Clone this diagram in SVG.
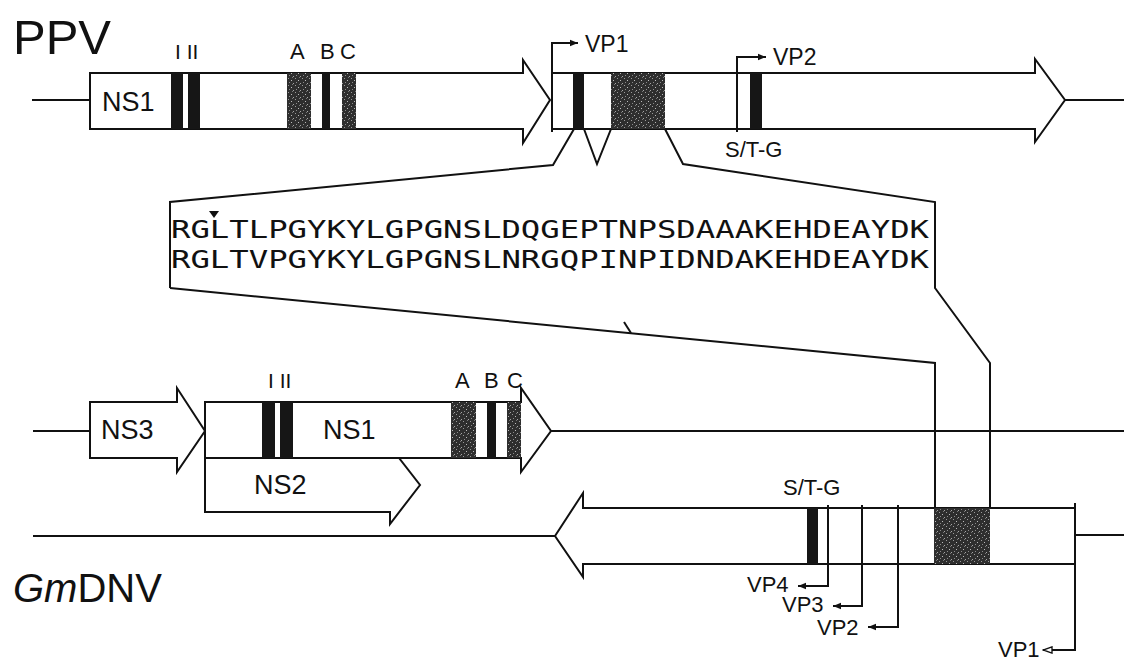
<svg xmlns="http://www.w3.org/2000/svg" width="1124" height="660" viewBox="0 0 1124 660">
<style>
.ln{fill:none;stroke:#111;stroke-width:2}
.box{fill:#fff;stroke:#111;stroke-width:2;stroke-linejoin:miter}
.dark{fill:#161616}
.tex{fill:url(#speck)}
.lbl{font-family:"Liberation Sans",Arial,sans-serif;fill:#111}
.seq{font-family:"DejaVu Sans Mono","Liberation Mono",monospace;fill:#111;font-size:25px}
</style>
<defs>
<pattern id="speck" width="7" height="7" patternUnits="userSpaceOnUse">
<rect width="7" height="7" fill="#2e2e2e"/>
<rect x="1" y="1" width="1" height="1" fill="#9a9a9a"/>
<rect x="4" y="3" width="1" height="1" fill="#bbbbbb"/>
<rect x="2" y="5" width="1" height="1" fill="#8a8a8a"/>
<rect x="6" y="6" width="1" height="1" fill="#a5a5a5"/>
<rect x="5" y="0" width="1" height="1" fill="#777"/>
</pattern>
<marker id="ah" viewBox="0 0 10 10" refX="10" refY="5" markerWidth="9" markerHeight="8" markerUnits="userSpaceOnUse" orient="auto">
<path d="M0,1 L10,5 L0,9 Z" fill="#111"/>
</marker>
<marker id="aho" viewBox="0 0 12 10" refX="11" refY="5" markerWidth="11" markerHeight="9" markerUnits="userSpaceOnUse" orient="auto">
<path d="M1,1.5 L11,5 L1,8.5 Z" fill="#fff" stroke="#111" stroke-width="1.5"/>
</marker>
</defs>
<rect width="1124" height="660" fill="#fff"/>

<text class="lbl" x="13" y="54" font-size="49">PPV</text>
<text class="lbl" x="13" y="602" font-size="40"><tspan font-style="italic">Gm</tspan>DNV</text>

<g id="ppv-ns1">
<line class="ln" x1="32" y1="100" x2="90" y2="100"/>
<path class="box" d="M90,73 L523,73 L523,60 L550,100 L523,143 L523,129 L90,129 Z"/>
<rect class="dark" x="171" y="73" width="12" height="56"/>
<rect class="dark" x="188" y="73" width="12" height="56"/>
<rect class="tex" x="287" y="73" width="24" height="56"/>
<rect class="dark" x="322" y="73" width="8" height="56"/>
<rect class="tex" x="342" y="73" width="14" height="56"/>
<text class="lbl" x="102" y="111" font-size="27">NS1</text>
<text class="lbl" x="175" y="59" font-size="21">I II</text>
<text class="lbl" x="290" y="59" font-size="22">A</text>
<text class="lbl" x="320" y="59" font-size="22">B</text>
<text class="lbl" x="340" y="59" font-size="22">C</text>
</g>

<g id="ppv-vp">
<path class="box" d="M552,73 L1035,73 L1035,59 L1065,100 L1035,142 L1035,129 L552,129 Z"/>
<line class="ln" x1="1065" y1="100" x2="1124" y2="100"/>
<rect class="dark" x="573" y="73" width="11" height="56"/>
<rect class="tex" x="611" y="73" width="54" height="56"/>
<rect class="dark" x="750" y="73" width="12" height="56"/>
<text class="lbl" x="585" y="52" font-size="23">VP1</text>
<text class="lbl" x="773" y="65" font-size="23">VP2</text>
<text class="lbl" x="725" y="157" font-size="22">S/T-G</text>
</g>

<g id="sequence">
<text class="seq" x="171" y="238" textLength="758" lengthAdjust="spacingAndGlyphs">RGLTLPGYKYLGPGNSLDQGEPTNPSDAAAKEHDEAYDK</text>
<text class="seq" x="171" y="268" textLength="758" lengthAdjust="spacingAndGlyphs">RGLTVPGYKYLGPGNSLNRGQPINPIDNDAKEHDEAYDK</text>
<path d="M209,211 L219,211 L214,218 Z" fill="#111"/>
</g>

<g id="gmdnv-ns">
<line class="ln" x1="33" y1="431" x2="90" y2="431"/>
<path class="box" d="M90,402 L177,402 L177,388 L205,431 L177,472 L177,458 L90,458 Z"/>
<text class="lbl" x="101" y="439" font-size="27">NS3</text>
<path class="box" d="M205,458 L399,458 L420,485 L390,524 L390,512 L205,512 Z"/>
<text class="lbl" x="254" y="494" font-size="27">NS2</text>
<path class="box" d="M205,402 L521,402 L521,388 L551,431 L521,472 L521,458 L205,458 Z"/>
<rect class="dark" x="262" y="402" width="13" height="56"/>
<rect class="dark" x="280" y="402" width="13" height="56"/>
<rect class="tex" x="451" y="402" width="25" height="56"/>
<rect class="dark" x="487" y="402" width="9" height="56"/>
<rect class="tex" x="507" y="402" width="14" height="56"/>
<text class="lbl" x="323" y="439" font-size="27">NS1</text>
<text class="lbl" x="268" y="388" font-size="21">I II</text>
<text class="lbl" x="455" y="388" font-size="22">A</text>
<text class="lbl" x="484" y="388" font-size="22">B</text>
<text class="lbl" x="507" y="388" font-size="22">C</text>
<line class="ln" x1="551" y1="431" x2="1124" y2="431"/>
</g>

<g id="gmdnv-vp">
<line class="ln" x1="33" y1="536" x2="555" y2="536"/>
<path class="box" d="M555,536 L583,493 L583,508 L1075,508 L1075,564 L583,564 L583,577 Z"/>
<rect class="dark" x="807" y="508" width="11" height="56"/>
<rect class="tex" x="934" y="508" width="56" height="56"/>
<line class="ln" x1="1075" y1="535" x2="1124" y2="535"/>
<text class="lbl" x="783" y="495" font-size="22">S/T-G</text>
<text class="lbl" x="747" y="592" font-size="22">VP4</text>
<text class="lbl" x="782" y="612" font-size="22">VP3</text>
<text class="lbl" x="817" y="635" font-size="22">VP2</text>
<text class="lbl" x="998" y="657" font-size="22">VP1</text>
</g>

<g id="connectors">
<polyline class="ln" points="552,132 552,43 578,43" marker-end="url(#ah)"/>
<polyline class="ln" points="737,132 737,57 766,57" marker-end="url(#ah)"/>
<polyline class="ln" points="170,288 170,202 553,165 574,129"/>
<polyline class="ln" points="584,129 597,164 611,129"/>
<polyline class="ln" points="665,129 683,164 935,202 935,288 990,363 990,508"/>
<polyline class="ln" points="170,288 935,363 935,508"/>
<line class="ln" x1="624" y1="322" x2="631" y2="333"/>
<polyline class="ln" points="828,505 828,586 798,586" marker-end="url(#ah)"/>
<polyline class="ln" points="862,505 862,606 833,606" marker-end="url(#ah)"/>
<polyline class="ln" points="898,505 898,627 868,627" marker-end="url(#ah)"/>
<polyline class="ln" points="1075,503 1075,650 1043,650" marker-end="url(#aho)"/>
</g>
</svg>
